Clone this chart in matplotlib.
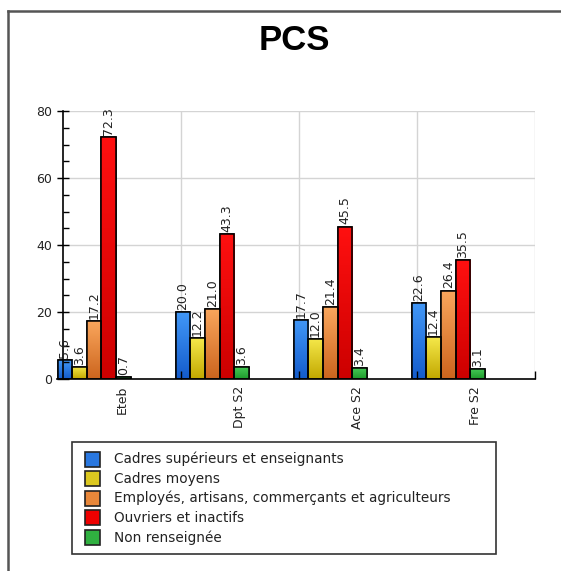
import numpy as np
import matplotlib
matplotlib.use("Agg")
import matplotlib.pyplot as plt
from matplotlib.colors import LinearSegmentedColormap
from matplotlib.patches import Rectangle
from matplotlib.lines import Line2D

# data
categories = ['Eteb', 'Dpt S2', 'Ace S2', 'Fre S2']
series_names = ['Cadres supérieurs et enseignants',
                'Cadres moyens',
                'Employés, artisans, commerçants et agriculteurs',
                'Ouvriers et inactifs',
                'Non renseignée']
cadres_sup = [5.6, 20.0, 17.7, 22.6]
cadres_moy = [3.6, 12.2, 12.0, 12.4]
employes = [17.2, 21.0, 21.4, 26.4]
ouvriers = [72.3, 43.3, 45.5, 35.5]
non_renseignee = [0.7, 3.6, 3.4, 3.1]
yticks = [0, 20, 40, 60, 80]

series = [cadres_sup, cadres_moy, employes, ouvriers, non_renseignee]
# (top colour, bottom colour) for the gradient look
grads = [('#4197f7', '#145ccc'),
         ('#f5e84a', '#c2a800'),
         ('#faa65c', '#cc651e'),
         ('#ff1010', '#cc0000'),
         ('#48cc58', '#1e9a2c')]
flat = ['#2a78e0', '#dcc820', '#e8873a', '#ee0000', '#30b040']
narrow = ['Liberation Sans Narrow', 'DejaVu Sans']

W, H = 561, 571
fig = plt.figure(figsize=(W / 100, H / 100), dpi=100)

def px(x0, y0, x1, y1):
    return [x0 / W, 1 - y1 / H, (x1 - x0) / W, (y1 - y0) / H]

ax = fig.add_axes(px(57, 111, 535, 379))

# grid behind everything
for y in yticks[1:]:
    ax.axhline(y, color='#d4d4d4', lw=1, zorder=0.3)
for x in [1, 2, 3, 4]:
    ax.axvline(x, color='#d4d4d4', lw=1, zorder=0.3)

bw = 0.124
start = -0.045
for k, vals in enumerate(series):
    cmap = LinearSegmentedColormap.from_list('g%d' % k, [grads[k][1], grads[k][0]])
    grad = np.linspace(0, 1, 64).reshape(-1, 1)
    for i, v in enumerate(vals):
        x0 = i + start + bw * k
        bar = ax.bar(x0, v, width=bw, align='edge', color=flat[k],
                     edgecolor='black', linewidth=1.1, zorder=1)[0]
        img = ax.imshow(grad, extent=[x0, x0 + bw, 0, v], origin='lower',
                        cmap=cmap, aspect='auto', zorder=1.1, interpolation='bilinear')
        img.set_clip_path(bar)
        ax.bar(x0, v, width=bw, align='edge', color='none',
               edgecolor='black', linewidth=1.1, zorder=1.2)
        ax.annotate('%.1f' % v, (x0 + bw / 2, v), xytext=(0, 1.5),
                    textcoords='offset points', rotation=90, ha='center', va='bottom',
                    fontsize=9, color='#222222', family=narrow)

ax.set_xlim(-0.05, 4)
ax.set_ylim(0, 80)

for s in ['top', 'right']:
    ax.spines[s].set_visible(False)
ax.spines['left'].set_position(('data', 0))
ax.spines['left'].set_linewidth(1.2)
ax.spines['bottom'].set_linewidth(1.2)

ax.set_yticks(yticks)
ax.set_yticklabels([str(t) for t in yticks], fontsize=9, color='#222222')
ax.set_yticks(np.arange(0, 81, 5), minor=True)
ax.tick_params(axis='y', which='major', direction='inout', length=8, width=1)
ax.tick_params(axis='y', which='minor', direction='in', length=4, width=1)

ax.set_xticks([i + 0.5 for i in range(len(categories))])
ax.set_xticklabels(categories, rotation=90, fontsize=9, color='#222222', family=narrow)
ax.set_xticks([1, 2, 3, 4], minor=True)
ax.tick_params(axis='x', which='major', length=0, pad=5)
ax.tick_params(axis='x', which='minor', direction='in', length=6, width=1)

# title
fig.text(294 / W, 1 - 41 / H, 'PCS', ha='center', va='center', fontsize=25,
         fontweight='bold', family='Liberation Sans')

# frame around the picture
fig.add_artist(Line2D([8 / W, 8 / W], [0, 1 - 11 / H], transform=fig.transFigure,
                      color='#555555', lw=1.8))
fig.add_artist(Line2D([8 / W, 1], [1 - 11 / H, 1 - 11 / H], transform=fig.transFigure,
                      color='#555555', lw=1.8))

# legend drawn by hand
fig.add_artist(Rectangle((72 / W, 1 - 554 / H), (496 - 72) / W, (554 - 442) / H,
                         transform=fig.transFigure, facecolor='white',
                         edgecolor='#333333', lw=1.2))
for k, name in enumerate(series_names):
    yc = 459 + 19.6 * k
    fig.add_artist(Rectangle((85 / W, 1 - (yc + 7.5) / H), 15 / W, 15 / H,
                             transform=fig.transFigure, facecolor=flat[k],
                             edgecolor='#222222', lw=1.2))
    fig.text(114 / W, 1 - yc / H, name, ha='left', va='center', fontsize=9.8,
             color='#222222')

fig.savefig('out.png', dpi=100)
